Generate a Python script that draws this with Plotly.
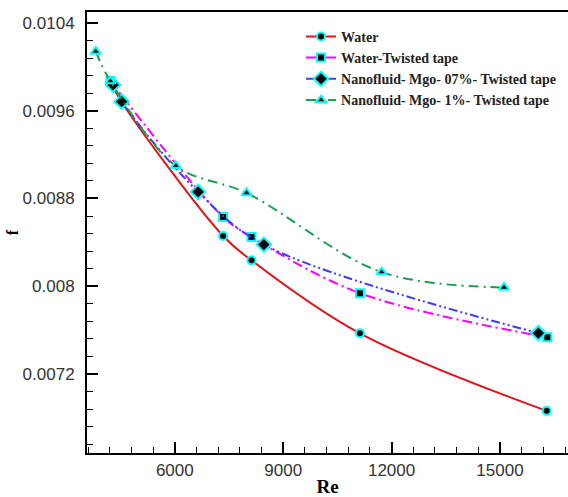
import plotly.graph_objects as go

# ---- data ----
re_water = [4250, 4530, 7336, 8123, 11122, 16292]
f_water = [0.00985, 0.00968, 0.008458, 0.008236, 0.007571, 0.006864]

re_wtt = [4218, 7336, 8123, 11122, 16309]
f_wtt = [0.00987, 0.008632, 0.008449, 0.007937, 0.007535]

re_nf07 = [4290, 4530, 6644, 8463, 16060]
f_nf07 = [0.009836, 0.009683, 0.00886, 0.00838, 0.007573]

re_nf1 = [3811, 4218, 6026, 7984, 11723, 15110]
f_nf1 = [0.01014, 0.00987, 0.009098, 0.00885, 0.008129, 0.007989]

series_names = ["Water", "Water-Twisted tape",
                "Nanofluid- Mgo- 07%- Twisted tape",
                "Nanofluid- Mgo- 1%- Twisted tape"]

x_tickvals = [6000, 9000, 12000, 15000]
x_ticktext = ["6000", "9000", "12000", "15000"]
y_tickvals = [0.0072, 0.008, 0.0088, 0.0096, 0.0104]
y_ticktext = ["0.0072", "0.008", "0.0088", "0.0096", "0.0104"]

cyan = "#00ffff"

fig = go.Figure()

def add(xv, yv, name, color, dash, symbol, size):
    fig.add_trace(go.Scatter(
        x=xv, y=yv, mode="lines+markers", name="<b>" + name + "</b>",
        line=dict(color=color, width=2, dash=dash, shape="spline", smoothing=1.0),
        marker=dict(symbol=symbol, size=size, color="black",
                    line=dict(color=cyan, width=2)),
    ))

add(re_water, f_water, series_names[0], "#e0141c", "solid", "circle", 8)
add(re_wtt, f_wtt, series_names[1], "#ff00ff", "10px,4px,2px,4px", "square", 8)
add(re_nf07, f_nf07, series_names[2], "#3c3cff", "9px,3px,2px,3px,2px,3px", "diamond", 11)
add(re_nf1, f_nf1, series_names[3], "#1a9e4c", "10px,5px,2px,5px", "triangle-up", 9)

axis_common = dict(
    showline=True, linecolor="black", linewidth=2,
    ticks="inside", ticklen=11, tickwidth=2, tickcolor="black",
    showgrid=False, zeroline=False,
    tickfont=dict(family="Liberation Sans, Arial", size=17, color="#333333"),
)

fig.update_xaxes(
    range=[3570, 16882], tickmode="array",
    tickvals=x_tickvals, ticktext=x_ticktext,
    mirror=True, ticklabelstandoff=1,
    minor=dict(ticks="inside", ticklen=6, tickwidth=1, tickcolor="black",
               tick0=0, dtick=600, showgrid=False),
    title=dict(text="<b>Re</b>", font=dict(family="Liberation Serif, Times New Roman",
                                             size=19, color="black"), standoff=8),
    **axis_common,
)
fig.update_yaxes(
    range=[0.00648, 0.0105], tickmode="array",
    tickvals=y_tickvals, ticktext=y_ticktext,
    mirror=False, ticklabelstandoff=7,
    minor=dict(ticks="inside", ticklen=6, tickwidth=1, tickcolor="black",
               tick0=0, dtick=0.00016, showgrid=False),
    title=dict(text="<b>f</b>", font=dict(family="Liberation Serif, Times New Roman",
                                            size=16, color="black"), standoff=0),
    **axis_common,
)

fig.update_layout(
    width=568, height=497,
    margin=dict(l=87, r=0, t=12, b=44, autoexpand=False),
    paper_bgcolor="white", plot_bgcolor="white",
    showlegend=True,
    legend=dict(x=0.445, y=0.98, xanchor="left", yanchor="top",
                bgcolor="rgba(0,0,0,0)", borderwidth=0,
                font=dict(family="Liberation Serif, Times New Roman", size=14, color="#222222"),
                tracegroupgap=0, itemsizing="trace"),
)

fig.write_html("out.html")
